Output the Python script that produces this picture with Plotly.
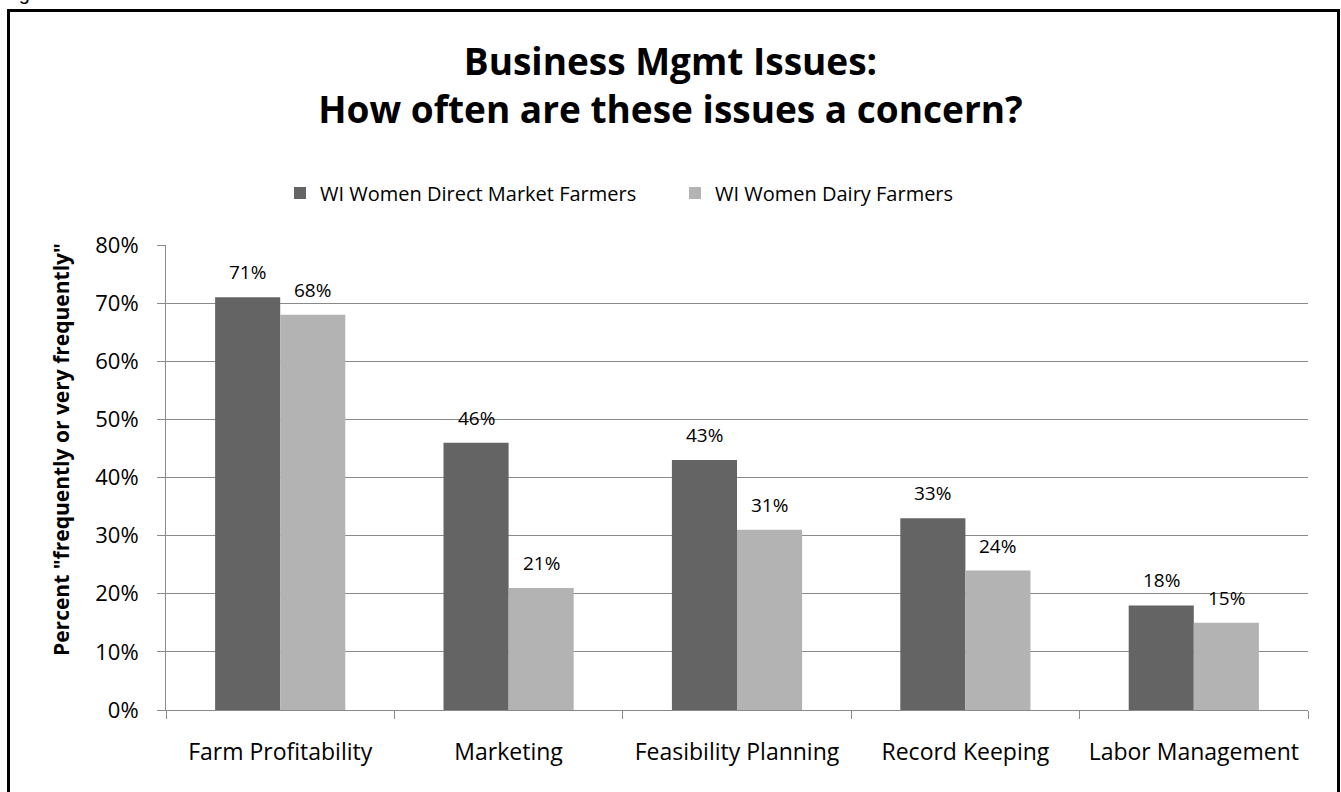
import plotly.graph_objects as go

# Survey results: share answering "frequently" or "very frequently"
categories = ["Farm Profitability", "Marketing", "Feasibility Planning",
              "Record Keeping", "Labor Management"]
direct_market = [71, 46, 43, 33, 18]
dairy = [68, 21, 31, 24, 15]
series_names = ["WI Women Direct Market Farmers", "WI Women Dairy Farmers"]
y_ticks = [0, 10, 20, 30, 40, 50, 60, 70, 80]
y_tick_labels = [f"{v}%" for v in y_ticks]

W, H = 1341, 792
M_L, M_R, M_T, M_B = 166, 33, 245, 82
PLOT_W = W - M_L - M_R
PLOT_H = H - M_T - M_B
BARGAP = 0.43

FONT = "Open Sans"
DARK = "#646464"
LIGHT = "#b3b3b3"
GRID = "#8a8a8a"


def px_to_paper_x(px):
    return (px - M_L) / PLOT_W


def px_to_paper_y(py):
    return (H - M_B - py) / PLOT_H


fig = go.Figure()
for name, vals, col in [(series_names[0], direct_market, DARK),
                        (series_names[1], dairy, LIGHT)]:
    fig.add_trace(go.Bar(x=categories, y=vals, name=name,
                         marker=dict(color=col, line=dict(width=0))))

# Value labels above each bar
bar_px = PLOT_W / len(categories) * (1 - BARGAP) / 2
for side, vals in [(-1, direct_market), (1, dairy)]:
    for cat, v in zip(categories, vals):
        fig.add_annotation(x=cat, y=v, text=f"{v}%", showarrow=False,
                           xshift=side * bar_px / 2, yshift=25,
                           font=dict(family=FONT, size=19, color="black"))

# Vertical axis title
fig.add_annotation(xref="paper", yref="paper",
                   x=px_to_paper_x(45), y=px_to_paper_y(450),
                   text='<b>Percent "frequently or very frequently"</b>',
                   textangle=-90, showarrow=False,
                   font=dict(family=FONT, size=21, color="black"))

# Partially visible caption above the frame
fig.add_annotation(xref="paper", yref="paper",
                   x=px_to_paper_x(0), y=px_to_paper_y(6),
                   xanchor="left", yanchor="bottom",
                   text="Figure 3", showarrow=False,
                   font=dict(family="Liberation Sans", size=20, color="black"))

# Outer frame
fig.add_shape(type="rect", xref="paper", yref="paper",
              x0=px_to_paper_x(8.5), x1=px_to_paper_x(1338.5),
              y0=px_to_paper_y(10.5), y1=px_to_paper_y(800),
              line=dict(color="black", width=3), fillcolor="rgba(0,0,0,0)",
              layer="above")

fig.update_layout(
    width=W, height=H,
    margin=dict(l=M_L, r=M_R, t=M_T, b=M_B, autoexpand=False),
    paper_bgcolor="white", plot_bgcolor="white",
    barmode="group", bargap=BARGAP, bargroupgap=0,
    font=dict(family=FONT, color="black"),
    title=dict(text="<b>Business Mgmt Issues:<br>How often are these issues a concern?</b>",
               x=0.5, xanchor="center", xref="container",
               yref="container", y=1 - 75 / H, yanchor="middle",
               font=dict(family=FONT, size=37, color="black")),
    legend=dict(orientation="h", x=px_to_paper_x(280), y=px_to_paper_y(193),
                xanchor="left", yanchor="middle",
                font=dict(family=FONT, size=20, color="black"),
                entrywidth=350, entrywidthmode="pixels",
                bgcolor="rgba(0,0,0,0)"),
    xaxis=dict(type="category", showline=True, linecolor=GRID, linewidth=1,
               ticks="outside", tickson="boundaries", ticklen=8,
               tickcolor=GRID, showgrid=False,
               tickfont=dict(family=FONT, size=23, color="black"),
               ticklabelstandoff=21),
    yaxis=dict(range=[0, 80], tickvals=y_ticks, ticktext=y_tick_labels,
               showline=True, linecolor=GRID, linewidth=1,
               ticks="outside", ticklen=8, tickcolor=GRID,
               showgrid=True, gridcolor=GRID, gridwidth=1,
               zeroline=False,
               tickfont=dict(family=FONT, size=22, color="black"),
               ticklabelstandoff=14),
)

fig.write_html("out.html")
